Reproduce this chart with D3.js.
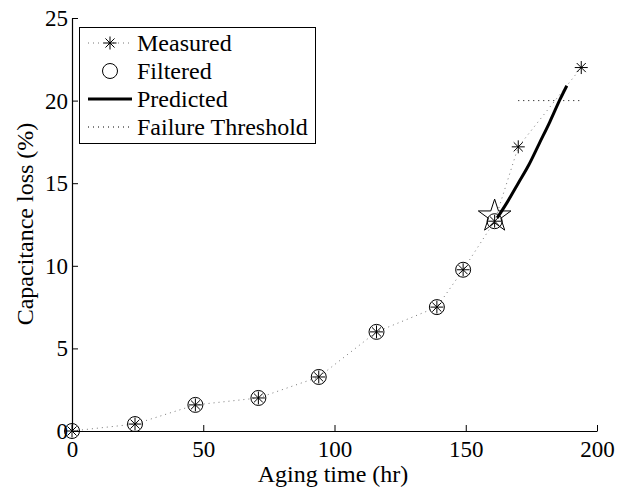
<!DOCTYPE html>
<html><head><meta charset="utf-8">
<script src="https://cdn.jsdelivr.net/npm/d3@7"></script>
<style>body{margin:0;background:#fff;} .tnr{font-family:"Liberation Serif","Times New Roman",Times,serif;}</style>
</head><body><svg id="c" width="623" height="487"></svg>
<script>
const measuredX = [0, 24, 47, 71, 94, 116, 139, 149, 161, 170, 194];
const measuredY = [0, 0.42, 1.58, 2.0, 3.27, 6.0, 7.5, 9.76, 12.7, 17.2, 22.0];
const filteredX = [0, 24, 47, 71, 94, 116, 139, 149, 161];
const filteredY = [0, 0.42, 1.58, 2.0, 3.27, 6.0, 7.5, 9.76, 12.7];
const predictedX = [162, 166, 170, 174, 178, 182, 186, 188.5];
const predictedY = [12.9, 13.9, 15.0, 16.1, 17.4, 18.7, 20.1, 20.9];
const thresholdX = [170, 194];
const thresholdY = [20, 20];
const starPoint = [161, 13.0];
const xTicks = [0, 50, 100, 150, 200];
const yTicks = [0, 5, 10, 15, 20, 25];
const legendLabels = ["Measured", "Filtered", "Predicted", "Failure Threshold"];

const svg = d3.select("#c");
const x = d3.scaleLinear().domain([0, 200]).range([72, 597]);
const y = d3.scaleLinear().domain([0, 25]).range([431, 18]);

const xa = svg.append("g").attr("transform", "translate(0,431)")
  .call(d3.axisBottom(x).tickValues(xTicks).tickSizeInner(-6).tickSizeOuter(0));
const ya = svg.append("g").attr("transform", "translate(72,0)")
  .call(d3.axisLeft(y).tickValues(yTicks).tickSizeInner(-6).tickSizeOuter(0).tickPadding(4));
[xa, ya].forEach(a => {
  a.attr("font-family", null).attr("font-size", null);
  a.select(".domain").attr("stroke", "#000").attr("stroke-width", 1.2);
  a.selectAll(".tick line").attr("stroke", "#000");
  a.selectAll(".tick text").attr("fill", "#000").attr("class", "tnr").attr("font-size", 23);
});
xa.selectAll(".tick text").attr("y", 26).attr("dy", 0);
ya.selectAll(".tick text").attr("dy", "0.33em");

svg.append("text").attr("class", "tnr").attr("x", 333).attr("y", 482).attr("text-anchor", "middle")
  .attr("font-size", 24).text("Aging time (hr)");
svg.append("text").attr("class", "tnr").attr("transform", "translate(33,224) rotate(-90)").attr("text-anchor", "middle")
  .attr("font-size", 24).text("Capacitance loss (%)");

const line = d3.line().x(d => x(d[0])).y(d => y(d[1]));
const mData = measuredX.map((v, i) => [v, measuredY[i]]);
const fData = filteredX.map((v, i) => [v, filteredY[i]]);
const pData = predictedX.map((v, i) => [v, predictedY[i]]);
const tData = thresholdX.map((v, i) => [v, thresholdY[i]]);

svg.append("path").attr("d", line(mData)).attr("fill", "none")
  .attr("stroke", "#777").attr("stroke-width", 1).attr("stroke-dasharray", "1,4");

function asterisk(g, cx, cy, r) {
  const p = `M${cx - r},${cy}L${cx + r},${cy}M${cx},${cy - r}L${cx},${cy + r}` +
    `M${cx - r * 0.7},${cy - r * 0.7}L${cx + r * 0.7},${cy + r * 0.7}M${cx - r * 0.7},${cy + r * 0.7}L${cx + r * 0.7},${cy - r * 0.7}`;
  g.append("path").attr("d", p).attr("stroke", "#000").attr("stroke-width", 1).attr("fill", "none");
}
fData.forEach(d => {
  svg.append("circle").attr("cx", x(d[0])).attr("cy", y(d[1])).attr("r", 7.5)
    .attr("fill", "none").attr("stroke", "#000").attr("stroke-width", 1);
});
mData.forEach(d => asterisk(svg, x(d[0]), y(d[1]), 6.5));

svg.append("path").attr("d", d3.line().curve(d3.curveMonotoneX).x(d => x(d[0])).y(d => y(d[1]))(pData))
  .attr("fill", "none").attr("stroke", "#000").attr("stroke-width", 3);

svg.append("path").attr("d", line(tData)).attr("fill", "none")
  .attr("stroke", "#000").attr("stroke-width", 1).attr("stroke-dasharray", "1,4");

const star = d3.symbol().type(d3.symbolStar).size(330);
svg.append("path").attr("d", star()).attr("transform", `translate(${x(starPoint[0])},${y(starPoint[1])})`)
  .attr("fill", "none").attr("stroke", "#000").attr("stroke-width", 1);

const lg = svg.append("g");
lg.append("rect").attr("x", 79.5).attr("y", 27.5).attr("width", 236).attr("height", 116)
  .attr("fill", "#fff").attr("stroke", "#000").attr("stroke-width", 1);
const rows = [43, 71, 99, 127];
legendLabels.forEach((t, i) => {
  lg.append("text").attr("class", "tnr").attr("x", 137).attr("y", rows[i]).attr("dy", "0.33em")
    .attr("font-size", 24).text(t);
});
lg.append("line").attr("x1", 88).attr("x2", 132).attr("y1", rows[0]).attr("y2", rows[0])
  .attr("stroke", "#777").attr("stroke-dasharray", "1,4");
asterisk(lg, 110, rows[0], 6.5);
lg.append("circle").attr("cx", 110).attr("cy", rows[1]).attr("r", 7.5).attr("fill", "none").attr("stroke", "#000");
lg.append("line").attr("x1", 88).attr("x2", 132).attr("y1", rows[2]).attr("y2", rows[2])
  .attr("stroke", "#000").attr("stroke-width", 3);
lg.append("line").attr("x1", 88).attr("x2", 132).attr("y1", rows[3]).attr("y2", rows[3])
  .attr("stroke", "#000").attr("stroke-dasharray", "1,4");
</script></body></html>
